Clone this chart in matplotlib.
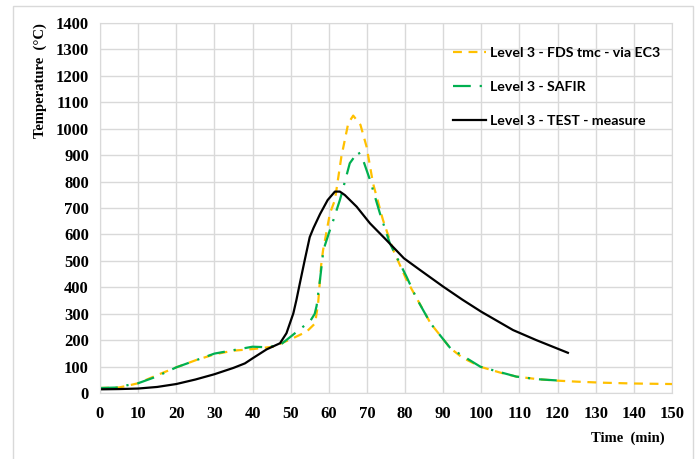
import matplotlib
matplotlib.use("Agg")
import matplotlib.pyplot as plt
from matplotlib.patches import Rectangle

# ---- data ----
test_t = [0, 5, 10, 15, 20, 25, 30, 35, 38, 40, 43.7, 47.2, 48.9, 50.7, 51.5, 52.4, 53.7, 55, 56, 57.7,
          59.7, 61.6, 62.9, 64.2, 67.3, 70.8, 75.1, 79.7, 83.9, 90, 95, 100, 108.3, 114.4, 122.7]
test_T = [15, 16, 18, 24, 35, 52, 72, 96, 113, 132, 166, 189, 227, 302, 352, 415, 504, 590, 625, 677,
          730, 762, 762, 749, 705, 642, 579, 510, 466, 403, 354, 308, 239, 201, 153]

fds_t = [0, 5, 7, 10, 15.7, 20, 25.3, 30, 34.9, 40, 45.4, 50, 54.2, 56.4, 57.2, 58, 58.5, 59, 60.3, 61.6,
         63.3, 65.1, 66.4, 68.3, 69.9, 71.6, 74.2, 76.9, 80.4, 86.7, 91.9, 95, 99.8, 105, 109.2, 115,
         119.7, 125, 131.9, 140, 150]
fds_T = [20, 22, 28, 38, 73, 98, 126, 147, 161, 167, 176, 204, 233, 264, 340, 485, 541, 579, 680, 730,
         894, 1020, 1049, 1014, 932, 793, 655, 541, 428, 264, 170, 135, 100, 78, 63, 53,
         48, 44, 40, 37, 35]

safir_t = [0, 5, 7, 10, 14.8, 20, 30, 35, 40, 43.7, 47.2, 50, 53.3, 55, 56.3, 56.8, 57.7, 58.5, 59, 60.3,
           61.1, 62.9, 63.3, 65.5, 67.7, 69, 70.8, 73.4, 76, 80.4, 83, 86.7, 91.9, 99.8, 109.2, 115, 120.5]
safir_T = [20, 22, 30, 38, 63, 98, 150, 163, 176, 174, 182, 214, 252, 270, 300, 330, 430, 530, 560, 617,
           650, 730, 750, 869, 913, 881, 806, 680, 567, 440, 359, 264, 170, 100, 63, 53, 48]

labels = ["Level 3 - FDS tmc - via EC3", "Level 3 - SAFIR", "Level 3 - TEST - measure"]
xticks = list(range(0, 151, 10))
yticks = list(range(0, 1401, 100))

fig = plt.figure(figsize=(6.96, 4.59), dpi=100)
W, H = 696, 459
ax = fig.add_axes([100 / W, 1 - 393.3 / H, (672 - 100) / W, (393.3 - 22.7) / H])

# outer frame
fig.patches.append(Rectangle((13 / W, -0.01), (693 - 13) / W, 1 - 6 / H + 0.01,
                             transform=fig.transFigure, fill=False, edgecolor="#d9d9d9", lw=1.0))

l1, = ax.plot(fds_t, fds_T, color="#FFC000", lw=1.6, linestyle=(0, (4, 3)))
l2, = ax.plot(safir_t, safir_T, color="#00B050", lw=1.6, linestyle=(0, (8, 4, 1, 4)))
l3, = ax.plot(test_t, test_T, color="black", lw=1.6)

ax.set_xlim(0, 150)
ax.set_ylim(0, 1400)
ax.set_xticks(xticks)
ax.set_yticks(yticks)
ax.grid(True, color="#d9d9d9", lw=1.0)
ax.set_axisbelow(True)
for s in ax.spines.values():
    s.set_color("#d9d9d9")
ax.tick_params(axis="x", length=0, pad=9)
ax.tick_params(axis="y", length=0, pad=8)
for lab in ax.get_xticklabels() + ax.get_yticklabels():
    lab.set_fontfamily("Liberation Serif")
    lab.set_fontweight("bold")
    lab.set_fontsize(12)

fig.text(40 / W, 1 - 81 / H, "Temperature  (°C)", rotation=90, ha="center", va="center",
         family="Liberation Serif", weight="bold", size=10.5)
fig.text(665 / W, 1 - 438 / H, "Time  (min)", ha="right", va="center",
         family="Liberation Serif", weight="bold", size=10.5)

leg = ax.legend([l1, l2, l3], labels, loc="upper left", bbox_to_anchor=(440 / W, 1 - 34 / H),
                bbox_transform=fig.transFigure, frameon=False, handlelength=2.35, handletextpad=0.3,
                labelspacing=1.55, prop=dict(family="Lato", weight="bold", size=10.2))

fig.savefig("out.png", dpi=100)
